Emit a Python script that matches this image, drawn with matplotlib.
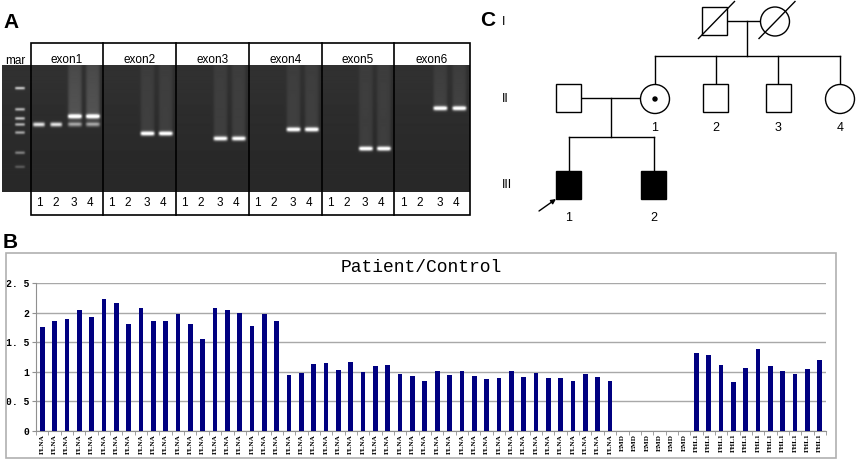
import numpy as np
import matplotlib
matplotlib.use("Agg")
import matplotlib.pyplot as plt
from matplotlib.patches import Rectangle, Ellipse

W, H = 858, 465

# --- panel B data --- #
flna_vals = [1.76, 1.85, 1.89, 2.05, 1.93, 2.23, 2.16, 1.80, 2.08, 1.85,
             1.86, 1.97, 1.81, 1.56, 2.07, 2.05, 1.99, 1.78, 1.97, 1.85,
             0.95, 0.98, 1.13, 1.15, 1.03, 1.17, 1.00, 1.10, 1.12, 0.96,
             0.93, 0.85, 1.02, 0.94, 1.02, 0.93, 0.87, 0.90, 1.02, 0.91,
             0.98, 0.89, 0.90, 0.85, 0.97, 0.92, 0.85]
emd_vals = [0, 0, 0, 0, 0, 0]
fhl1_vals = [1.32, 1.28, 1.12, 0.82, 1.06, 1.38, 1.09, 1.02, 0.96, 1.04, 1.20]
values = flna_vals + emd_vals + fhl1_vals
labels = ["FLNA"] * len(flna_vals) + ["EMD"] * len(emd_vals) + ["FHL1"] * len(fhl1_vals)
yticks = [0, 0.5, 1, 1.5, 2, 2.5]
ytick_labels = ["0", "0. 5", "1", "1. 5", "2", "2. 5"]

# --- panel A data --- #
exon_names = ["exon1", "exon2", "exon3", "exon4", "exon5", "exon6"]
seg_edges = [31, 103, 176, 249, 322, 394, 470]
lane_frac = [0.11, 0.35, 0.61, 0.86]
num_frac = [0.12, 0.34, 0.60, 0.82]
# (exon, lane, band y, intensity)
bands = [(0, 0, 125, 0.75), (0, 1, 125, 0.75),
         (0, 2, 117, 0.95), (0, 2, 125, 0.45), (0, 3, 117, 0.95), (0, 3, 125, 0.45),
         (1, 2, 134, 0.95), (1, 3, 134, 0.95),
         (2, 2, 139, 0.9), (2, 3, 139, 0.9),
         (3, 2, 130, 0.95), (3, 3, 130, 0.95),
         (4, 2, 149, 0.95), (4, 3, 149, 0.95),
         (5, 2, 109, 0.95), (5, 3, 109, 0.95)]
marker_y = [89, 110, 119, 125, 133, 153, 167]
marker_int = [0.6, 0.55, 0.6, 0.55, 0.5, 0.35, 0.2]

# --- panel C data --- #
# (x, y, sex, affected, deceased, carrier)
people = [(714.5, 21.5, "m", False, True, False),
          (775.0, 21.5, "f", False, True, False),
          (568.5, 98.0, "m", False, False, False),
          (655.0, 99.0, "f", False, False, True),
          (715.5, 98.0, "m", False, False, False),
          (778.0, 98.0, "m", False, False, False),
          (840.0, 99.0, "f", False, False, False),
          (568.5, 185.0, "m", True, False, False),
          (653.5, 185.0, "m", True, False, False)]
gen_names = ["I", "II", "III"]
gen_y = [22, 99, 185]


def px_axes(fig, x0, y0, x1, y1):
    return fig.add_axes([x0 / W, 1 - y1 / H, (x1 - x0) / W, (y1 - y0) / H])


fig = plt.figure(figsize=(W / 100, H / 100), dpi=100)
plt.rcParams['font.family'] = ['Liberation Sans', 'DejaVu Sans']

# ================= A: gel ================= #
axg = px_axes(fig, 0, 40, 472, 218)
axg.set_xlim(0, 472)
axg.set_ylim(218, 40)
axg.axis("off")

xs = np.arange(2, 470) + 0.5
ys = np.arange(66, 192) + 0.5
X, Y = np.meshgrid(xs, ys)
img = np.full(X.shape, 0.16)
img += 0.03 * np.exp(-((Y - 66) / 60.0) ** 2)


def lane_mask(xc, w):
    return np.exp(-((X - xc) / (w / 2)) ** 6)


for e, ln, yb, it in bands:
    x0, x1 = seg_edges[e], seg_edges[e + 1]
    xc = x0 + lane_frac[ln] * (x1 - x0)
    m = lane_mask(xc, 14 if ln >= 2 else 12)
    img += it * m * np.exp(-((Y - yb) / 2.1) ** 2)
    if ln >= 2:
        img += 0.08 * m * (Y < yb) * (0.6 + 0.4 * (Y - 66) / max(yb - 66, 1))
for yb, it in zip(marker_y, marker_int):
    img += it * lane_mask(20, 10) * np.exp(-((Y - yb) / 1.4) ** 2)
img = np.clip(img, 0, 1)
axg.imshow(img, cmap="gray", vmin=0, vmax=1, extent=[2, 470, 192, 66],
           interpolation="bilinear", aspect="auto", zorder=1)

axg.add_patch(Rectangle((31, 43), 439, 172, fill=False, ec="black", lw=1.2, zorder=3))
for xe in seg_edges[1:-1]:
    axg.plot([xe, xe], [43, 215], color="black", lw=1.2, zorder=3)
for k, name in enumerate(exon_names):
    x0, x1 = seg_edges[k], seg_edges[k + 1]
    axg.text((x0 + x1) / 2, 60, name, ha="center", va="center", fontsize=8.5, zorder=4)
    for j, f in enumerate(num_frac):
        axg.text(x0 + f * (x1 - x0), 203, str(j + 1), ha="center", va="center",
                 fontsize=8.5, zorder=4)
axg.text(15, 61, "mar", ha="center", va="center", fontsize=8.5, zorder=4)

fig.text(3 / W, 1 - 23 / H, "A", fontsize=15, fontweight="bold", ha="left", va="center")
fig.text(480 / W, 1 - 20 / H, "C", fontsize=15, fontweight="bold", ha="left", va="center")
fig.text(3 / W, 1 - 242 / H, "B", fontsize=15, fontweight="bold", ha="left", va="center")

# ================= C: pedigree ================= #
axp = px_axes(fig, 490, 0, 858, 225)
axp.set_xlim(490, 858)
axp.set_ylim(225, 0)
axp.axis("off")
lw = 1.0
for x, y, sex, aff, dead, carrier in people:
    fc = "black" if aff else "white"
    if sex == "m":
        axp.add_patch(Rectangle((x - 12.5, y - 14), 25, 28, fc=fc, ec="black", lw=lw, zorder=3))
    else:
        axp.add_patch(Ellipse((x, y), 29, 29, fc=fc, ec="black", lw=lw, zorder=3))
    if dead:
        axp.plot([x - 16, x + 20], [y + 17, y - 20], color="black", lw=lw, zorder=4)
    if carrier:
        axp.add_patch(Ellipse((x, y), 4, 4, fc="black", ec="black", zorder=4))

line_kw = dict(color="black", lw=lw, zorder=2)
# generation I couple and their children
axp.plot([people[0][0], people[1][0]], [21.5, 21.5], **line_kw)
axp.plot([747, 747], [21.5, 56], **line_kw)
axp.plot([people[3][0], people[6][0]], [56, 56], **line_kw)
for p in people[3:7]:
    axp.plot([p[0], p[0]], [56, p[1] - 14], **line_kw)
# generation II couple and their children
axp.plot([people[2][0], people[3][0]], [98, 98], **line_kw)
axp.plot([611, 611], [98, 137], **line_kw)
axp.plot([people[7][0], people[8][0]], [137, 137], **line_kw)
for p in people[7:9]:
    axp.plot([p[0], p[0]], [137, p[1] - 14], **line_kw)

axp.annotate("", xy=(556, 199), xytext=(539, 211),
             arrowprops=dict(arrowstyle="-|>", color="black", lw=1.0,
                             mutation_scale=7, shrinkA=0, shrinkB=0))
for i, p in enumerate(people[3:7]):
    axp.text(p[0], 128, str(i + 1), ha="center", va="center", fontsize=9)
for i, p in enumerate(people[7:9]):
    axp.text(p[0], 218, str(i + 1), ha="center", va="center", fontsize=9)
for g, yg in zip(gen_names, gen_y):
    axp.text(502, yg, g, ha="left", va="center", fontsize=9)

# ================= B: bar chart ================= #
fig.add_artist(Rectangle((6 / W, 1 - 458 / H), 830 / W, 205 / H, transform=fig.transFigure,
                         fill=False, ec="#b0b0b0", lw=1.2))
fig.text(421 / W, 1 - 267 / H, "Patient/Control", ha="center", va="center",
         fontsize=13, family="Liberation Mono")

axb = px_axes(fig, 36, 283, 826, 431)
x = np.arange(len(values))
axb.bar(x, values, width=0.38, color="#000080", zorder=3)
axb.set_xlim(-0.5, len(values) - 0.5)
axb.set_ylim(0, 2.5)
axb.set_yticks(yticks)
axb.set_yticklabels(ytick_labels, family="Liberation Mono", fontweight="bold", fontsize=7)
axb.yaxis.grid(True, color="#a8a8a8", lw=1.0, zorder=0)
axb.set_xticks(x)
axb.set_xticklabels(labels, rotation=90, fontsize=5.2, family="Liberation Serif",
                    fontweight="bold")
axb.set_xticks(np.arange(len(values) + 1) - 0.5, minor=True)
axb.tick_params(axis="x", which="major", length=0, pad=2)
axb.tick_params(axis="x", which="minor", length=3, color="#909090")
axb.tick_params(axis="y", length=3, color="#909090", pad=2)
for s in ["top", "right"]:
    axb.spines[s].set_visible(False)
for s in ["left", "bottom"]:
    axb.spines[s].set_color("#909090")

fig.savefig("out.png", dpi=100)
